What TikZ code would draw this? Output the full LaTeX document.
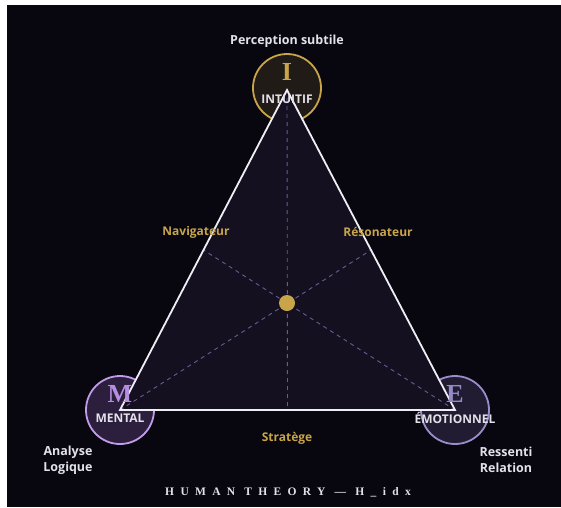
\documentclass[tikz,border=0pt]{standalone}
\usepackage{fontspec}
\setmainfont{Open Sans}
\newfontfamily\sansb{Open Sans Bold}
\newfontfamily\serifb{Liberation Serif Bold}
\usetikzlibrary{calc}
\definecolor{bgc}{HTML}{08060E}
\definecolor{trifill}{HTML}{14101F}
\definecolor{goldc}{HTML}{C9A54A}
\definecolor{linec}{HTML}{F0EEF5}
\definecolor{dashc}{HTML}{6B5A94}
\definecolor{txtc}{HTML}{E4E1EA}
\definecolor{mcol}{HTML}{C39BEB}
\definecolor{mtxt}{HTML}{B68DE0}
\definecolor{ecol}{HTML}{9B8DC9}
\definecolor{etxt}{HTML}{9788C6}
\definecolor{ifill}{HTML}{211B17}
\definecolor{mfill}{HTML}{2B1F3D}
\definecolor{efill}{HTML}{211C31}
\begin{document}
\begin{tikzpicture}[x=1pt,y=-1pt,
  lbl/.style={font=\sansb\fontsize{12.5}{16}\selectfont, text=txtc},
  axis/.style={font=\sansb\fontsize{12}{14}\selectfont, text=goldc},
  vcirc/.style={circle, minimum size=68pt, line width=1.8pt, inner sep=0pt},
  big/.style={font=\serifb\fontsize{26}{26}\selectfont},
  nm/.style={font=\sansb\fontsize{12}{14}\selectfont, text=txtc},
  dashln/.style={draw=dashc, line width=0.9pt, dash pattern=on 4pt off 4pt}]
\useasboundingbox (0,0) rectangle (561,507);
\fill[white] (0,0) rectangle (561,507);
\fill[bgc] (7,5) rectangle (561,507);
% vertex coordinates
\coordinate (I) at (287,90);
\coordinate (M) at (120,410);
\coordinate (E) at (455,410);
% circles
\node[vcirc, draw=goldc, fill=ifill] (ci) at (287,88) {};
\node[vcirc, draw=mcol, fill=mfill] (cm) at (120,410) {};
\node[vcirc, draw=ecol, fill=efill] (ce) at (455,410) {};
% triangle
\fill[trifill] (I) -- (M) -- (E) -- cycle;
\coordinate (mIE) at ($(I)!0.5!(E)$);
\coordinate (mIM) at ($(I)!0.5!(M)$);
\coordinate (mME) at ($(M)!0.5!(E)$);
\draw[dashln] (I) -- (mME);
\draw[dashln] (M) -- (mIE);
\draw[dashln] (E) -- (mIM);
\draw[linec, line width=1.8pt, line join=miter] (I) -- (M) -- (E) -- cycle;
\node[circle, fill=goldc, minimum size=16pt, inner sep=0pt] (ctr) at (287,303) {};
% letters and names
\node[big, text=goldc] (li) at (287,72) {I};
\node[nm] (ni) at (287,99) {INTUITIF};
\node[big, text=mtxt] (lm) at (120,394) {M};
\node[nm] (nmm) at (120,418) {MENTAL};
\node[big, text=etxt] (le) at (455,394) {E};
\node[nm] (ne) at (455,418) {ÉMOTIONNEL};
% labels
\node[lbl] (ps) at (287,41) {Perception subtile};
\node[axis] (nav) at (196,232) {Navigateur};
\node[axis] (res) at (378,232) {Résonateur};
\node[axis] (str) at (287,438) {Stratège};
\node[lbl, align=center] (al) at (68,460) {Analyse\\Logique};
\node[lbl, align=center] (rr) at (506,460) {Ressenti\\Relation};
\node[font=\serifb\fontsize{11.5}{12}\selectfont\addfontfeature{LetterSpace=55}, text=txtc] (ht) at (288,492) {HUMAN THEORY — H\_idx};
\end{tikzpicture}
\end{document}
